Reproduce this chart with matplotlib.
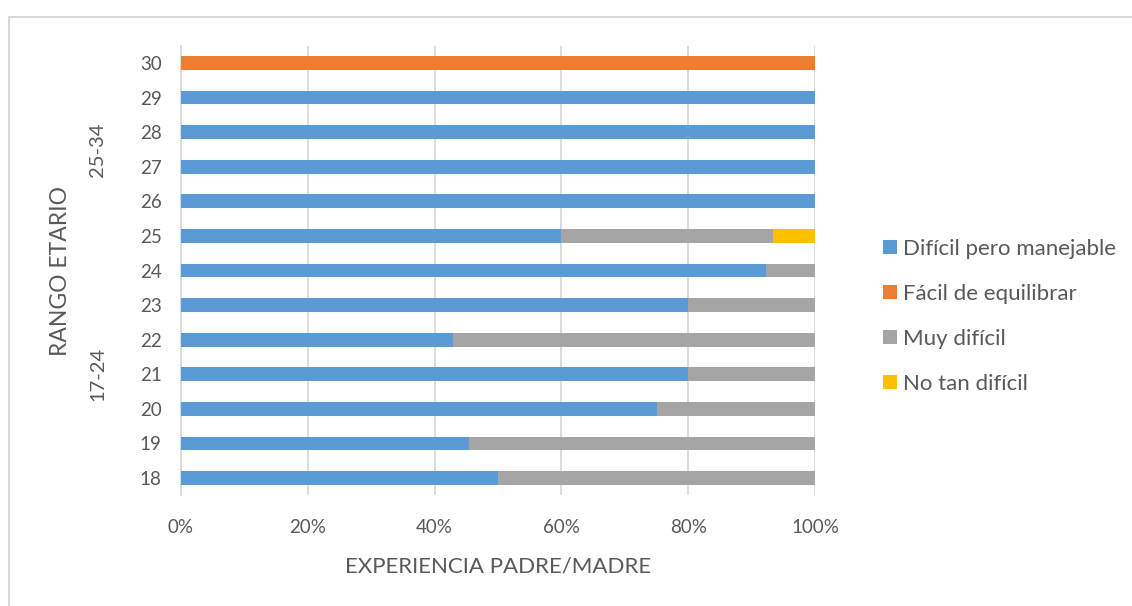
import numpy as np
import matplotlib.pyplot as plt
from matplotlib.patches import Rectangle
from matplotlib.ticker import PercentFormatter

plt.rcParams['font.family'] = ['Lato', 'DejaVu Sans']

# datos
edades = ['18', '19', '20', '21', '22', '23', '24', '25', '26', '27', '28', '29', '30']
dificil_manejable = [0.50, 0.455, 0.75, 0.80, 0.429, 0.80, 0.923, 0.60, 1.0, 1.0, 1.0, 1.0, 0.0]
facil_equilibrar = [0, 0, 0, 0, 0, 0, 0, 0, 0, 0, 0, 0, 1.0]
muy_dificil = [0.50, 0.545, 0.25, 0.20, 0.571, 0.20, 0.077, 0.333, 0, 0, 0, 0, 0]
no_tan_dificil = [0, 0, 0, 0, 0, 0, 0, 0.067, 0, 0, 0, 0, 0]

series = [
    ('Difícil pero manejable', dificil_manejable, '#5B9BD5'),
    ('Fácil de equilibrar', facil_equilibrar, '#ED7D31'),
    ('Muy difícil', muy_dificil, '#A5A5A5'),
    ('No tan difícil', no_tan_dificil, '#FFC000'),
]

grupos = ['17-24', '25-34']
grupo_rangos = [(0, 6), (7, 12)]

texto = '#595959'

fig = plt.figure(figsize=(11.32, 6.06), dpi=100)
ax = fig.add_axes([181 / 1132, 1 - 495.3 / 606, 634 / 1132, 449.6 / 606])

# borde del gráfico
fig.patches.append(Rectangle((9 / 1132, -0.1), 1.2, 1 - 17 / 606 + 0.1,
                             transform=fig.transFigure, fill=False,
                             edgecolor='#d9d9d9', linewidth=1.5))

y = np.arange(len(edades))
izquierda = np.zeros(len(edades))
for nombre, valores, color in series:
    valores = np.array(valores)
    ax.barh(y, valores, left=izquierda, height=0.4, color=color, label=nombre,
            zorder=3)
    izquierda += valores

ax.set_xlim(0, 1)
ax.set_ylim(-0.5, len(edades) - 0.5)
ax.set_xticks(np.arange(0, 1.01, 0.2))
ax.xaxis.set_major_formatter(PercentFormatter(1.0, decimals=0))
ax.set_yticks(y)
ax.set_yticklabels(edades)
ax.tick_params(length=0, labelsize=13.5, colors=texto)
ax.tick_params(axis='x', pad=17)
ax.tick_params(axis='y', pad=14)
ax.grid(axis='x', color='#d9d9d9', linewidth=1.3, zorder=0)
for s in ['top', 'right', 'bottom']:
    ax.spines[s].set_visible(False)
ax.spines['left'].set_color('#d9d9d9')
ax.spines['left'].set_linewidth(1.3)

ax.set_xlabel('EXPERIENCIA PADRE/MADRE', fontsize=16, color=texto, labelpad=15)

# etiquetas de grupo
for g, (a, b) in zip(grupos, grupo_rangos):
    ax.text(-0.131, (a + b) / 2, g, rotation=90, ha='center', va='center',
            fontsize=14.5, color=texto, transform=ax.get_yaxis_transform())
ax.text(-0.19, 0.5, 'RANGO ETARIO', rotation=90, ha='center', va='center',
        fontsize=16.5, color=texto, transform=ax.transAxes)

ley = ax.legend(loc='center left', bbox_to_anchor=(1.076, 0.398), frameon=False,
                fontsize=16, labelcolor=texto, handlelength=0.6,
                handleheight=0.6, handletextpad=0.27, labelspacing=1.12)

fig.savefig('out.png', dpi=100)
